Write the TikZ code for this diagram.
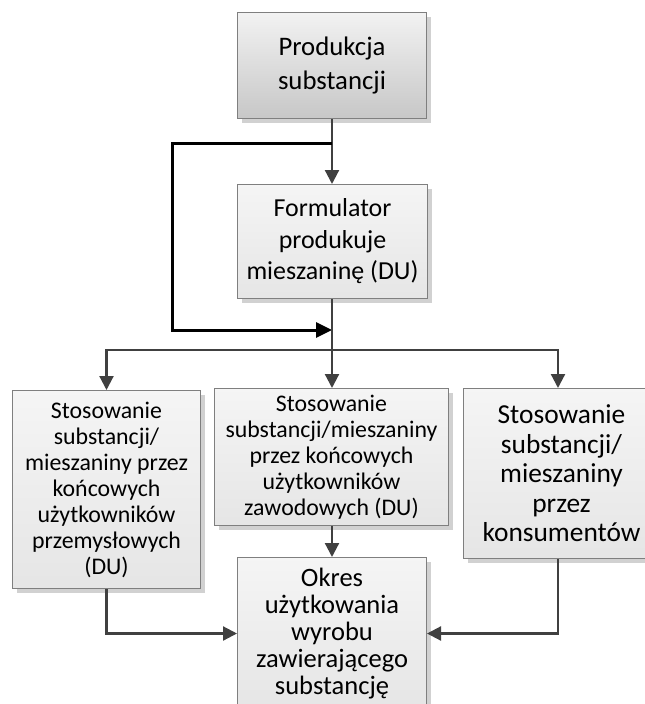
\documentclass[tikz,border=0pt]{standalone}
\usepackage{fontspec}
\setmainfont{Carlito}
\usetikzlibrary{arrows.meta,shadows}
\definecolor{linegray}{HTML}{404040}
\definecolor{bordergray}{HTML}{7F7F7F}
\newlength\tmpw
\newcommand\fitsize[3]{\settowidth\tmpw{\fontsize{10}{12}\selectfont #2}\pgfmathsetmacro#1{10*#3/\tmpw}}
\tikzset{
  box/.style={draw=bordergray, line width=1pt, inner sep=0pt, align=center, anchor=north west,
    top color=white!96!black, bottom color=white!90!black,
    drop shadow={shadow xshift=4pt, shadow yshift=-4pt, fill=black!18, opacity=1}},
  topbox/.style={box, top color=white!95!black, bottom color=white!78!black},
  conn/.style={draw=linegray, line width=2.2pt, -{Triangle[length=14pt,width=14pt]}},
  plain/.style={draw=linegray, line width=2.2pt},
  loopline/.style={draw=black, line width=3pt, -{Triangle[length=16pt,width=15pt]}},
}
\begin{document}
\fitsize{\szTop}{Produkcja}{107}%
\fitsize{\szForm}{mieszaninę (DU)}{172}%
\fitsize{\szInd}{mieszaniny przez}{163}%
\fitsize{\szProf}{substancji/mieszaniny}{212}%
\fitsize{\szCons}{konsumentów}{158}%
\fitsize{\szLife}{zawierającego}{152}%
\begin{tikzpicture}[x=1pt,y=-1pt]
\useasboundingbox (0,0) rectangle (645,704);
\node[topbox, minimum width=189pt, minimum height=106pt, font=\fontsize{\szTop}{34}\selectfont] (prod) at (237,12) {Produkcja\\substancji};
\node[box, minimum width=190pt, minimum height=114pt, font=\fontsize{\szForm}{31.5}\selectfont] (form) at (237,184) {Formulator\\produkuje\\mieszaninę (DU)};
\node[box, minimum width=188pt, minimum height=198pt, font=\fontsize{\szInd}{26}\selectfont] (ind) at (12,390) {Stosowanie\\substancji/\\mieszaniny przez\\końcowych\\użytkowników\\przemysłowych\\(DU)};
\node[box, minimum width=234pt, minimum height=137pt, font=\fontsize{\szProf}{26}\selectfont] (prof) at (214,388) {Stosowanie\\substancji/mieszaniny\\przez końcowych\\użytkowników\\zawodowych (DU)};
\node[box, minimum width=196pt, minimum height=170pt, font=\fontsize{\szCons}{29.5}\selectfont] (cons) at (463,388) {Stosowanie\\substancji/\\mieszaniny\\przez\\konsumentów};
\node[box, minimum width=189pt, minimum height=152pt, font=\fontsize{\szLife}{27}\selectfont] (life) at (237,557) {Okres\\użytkowania\\wyrobu\\zawierającego\\substancję};
\coordinate (split) at (332,143);
\coordinate (lc1) at (172,143);
\coordinate (lc2) at (172,330);
\coordinate (join) at (332,330);
\coordinate (bus) at (332,350);
\coordinate (rcol) at (558,0);
\draw[conn] (prod.south -| split) -- (form.north -| split);
\draw[loopline] (split) -- (lc1) -- (lc2) -- (join);
\draw[plain] (form.south -| bus) -- (bus);
\draw[conn] (bus) -| (ind.north);
\draw[conn] (bus) -| (cons.north -| rcol);
\draw[conn] (bus) -- (prof.north -| bus);
\draw[conn] (prof.south -| bus) -- (life.north -| bus);
\draw[conn] (ind.south) |- (life.west);
\draw[conn] (cons.south -| rcol) |- (life.east);
\end{tikzpicture}
\end{document}
